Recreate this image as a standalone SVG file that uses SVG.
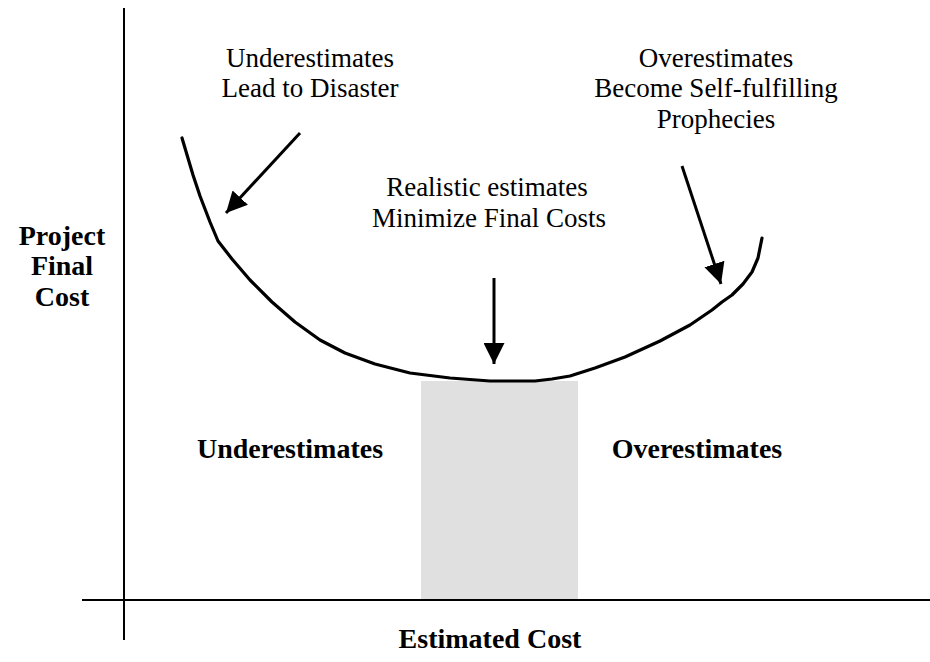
<svg xmlns="http://www.w3.org/2000/svg" width="930" height="662" viewBox="0 0 930 662">
  <style>
    .note { font-family: "Liberation Serif", "Times New Roman", serif; font-size: 27px; fill: #000; text-anchor: middle; }
    .label { font-family: "Liberation Serif", "Times New Roman", serif; font-size: 28px; font-weight: bold; fill: #000; text-anchor: middle; }
    .axis { stroke: #000; stroke-width: 2; fill: none; }
    .curve { stroke: #000; stroke-width: 3.2; fill: none; stroke-linejoin: round; stroke-linecap: round; }
    .pointer { stroke: #000; stroke-width: 3; fill: none; }
  </style>
  <defs>
    <marker id="head" viewBox="0 0 10 10" refX="10" refY="5" markerWidth="7" markerHeight="7" markerUnits="strokeWidth" orient="auto">
      <path d="M0,0 L10,5 L0,10 Z" fill="#000"/>
    </marker>
  </defs>

  <rect width="930" height="662" fill="#fff"/>

  <!-- realistic estimate band -->
  <g id="band">
    <rect x="421" y="381" width="157" height="219" fill="#e0e0e0"/>
  </g>

  <!-- axes -->
  <g id="axes">
    <line class="axis" x1="124" y1="8" x2="124" y2="640"/>
    <line class="axis" x1="82" y1="600" x2="930" y2="600"/>
  </g>

  <!-- cost curve -->
  <g id="cost-curve">
    <path class="curve" d="M182,138 L193,175 L200,196 L210,222 L218,241 L232,259 L250,280 L272,302 L295,322 L320,340 L345,353 L375,364 L410,373 L450,378 L490,381 L535,381 L552,379 L570,376 L595,368 L625,357 L660,341 L690,325 L712,310 L722,302 L732,295 L743,284 L752,272 L758,258 L762,238"/>
  </g>

  <!-- pointers -->
  <g id="connectors">
    <line class="pointer" x1="300" y1="133" x2="226" y2="213" marker-end="url(#head)"/>
    <line class="pointer" x1="494" y1="278" x2="494" y2="364" marker-end="url(#head)"/>
    <line class="pointer" x1="682" y1="166" x2="721" y2="284" marker-end="url(#head)"/>
  </g>

  <g id="note-under">
    <text class="note" x="310" y="67">Underestimates</text>
    <text class="note" x="310" y="97">Lead to Disaster</text>
  </g>
  <g id="note-over">
    <text class="note" x="716" y="67">Overestimates</text>
    <text class="note" x="716" y="97">Become Self-fulfilling</text>
    <text class="note" x="716" y="128">Prophecies</text>
  </g>
  <g id="note-realistic">
    <text class="note" x="487" y="196">Realistic estimates</text>
    <text class="note" x="489" y="227">Minimize Final Costs</text>
  </g>

  <g id="y-label">
    <text class="label" x="62" y="245">Project</text>
    <text class="label" x="62" y="275">Final</text>
    <text class="label" x="62" y="306">Cost</text>
  </g>
  <g id="region-under">
    <text class="label" x="290" y="458">Underestimates</text>
  </g>
  <g id="region-over">
    <text class="label" x="697" y="458">Overestimates</text>
  </g>
  <g id="x-label">
    <text class="label" x="490" y="648">Estimated Cost</text>
  </g>
</svg>
